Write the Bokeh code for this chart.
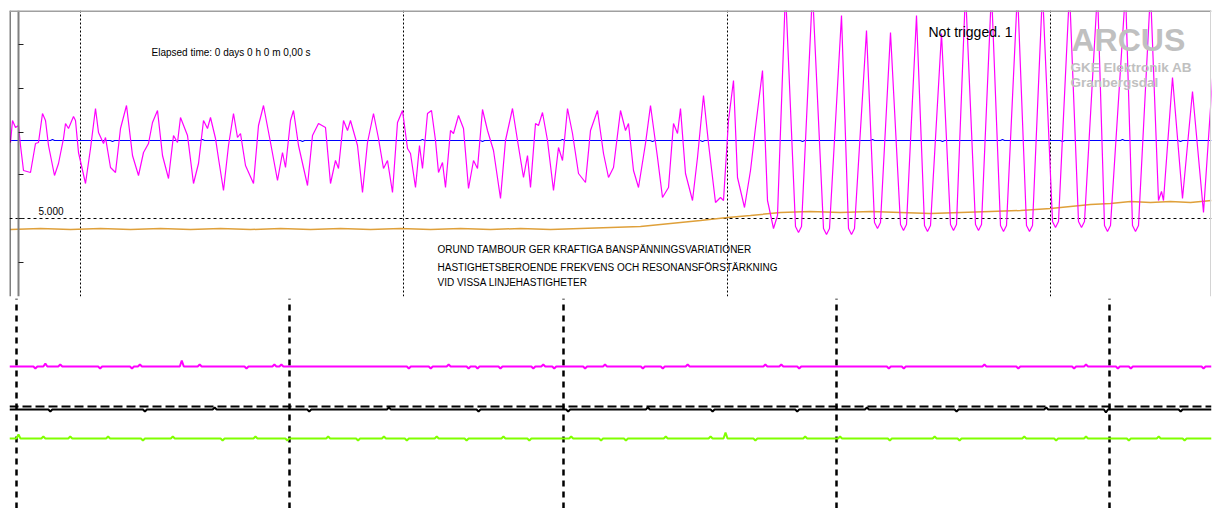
from bokeh.plotting import figure
from bokeh.models import Range1d, FixedTicker, Label, Span, CustomJSTickFormatter
from bokeh.layouts import column
from bokeh.embed import file_html
from bokeh.resources import INLINE

# ---------------- data (x = sample number, y = counts) ----------------
# top panel: magenta signal
mag_x = [0, 2, 5, 8, 10, 13, 20, 25, 28, 32,
         35, 38, 44, 48, 53, 55, 58, 63, 65, 68,
         75, 80, 85, 88, 93, 95, 100, 105, 110, 116,
         122, 128, 133, 138, 142, 147, 152, 158, 163, 167,
         170, 177, 183, 188, 193, 197, 200, 205, 208, 213,
         218, 223, 227, 230, 235, 243, 248, 253, 260, 267,
         272, 275, 280, 283, 288, 297, 302, 308, 315, 320,
         325, 328, 333, 337, 340, 347, 352, 357, 363, 368,
         373, 377, 382, 387, 392, 397, 400, 405, 409, 412,
         417, 421, 425, 428, 432, 435, 440, 443, 448, 453,
         458, 463, 467, 472, 477, 483, 490, 495, 502, 507,
         513, 517, 520, 525, 528, 532, 537, 543, 548, 552,
         557, 562, 568, 575, 580, 587, 593, 598, 603, 610,
         615, 618, 623, 628, 635, 640, 647, 652, 658, 663,
         667, 670, 675, 682, 687, 693, 698, 705, 710, 713,
         718, 723, 727, 734, 740, 745, 752, 757, 763, 767,
         775, 785, 788, 791, 802, 813, 816, 819, 831, 838,
         841, 844, 856, 864, 867, 870, 880, 890, 893, 896,
         906, 914, 917, 920, 931, 940, 943, 946, 955, 965,
         968, 971, 981, 990, 993, 996, 1007, 1016, 1019, 1022,
         1032, 1042, 1045, 1048, 1059, 1068, 1071, 1074, 1087, 1094,
         1097, 1100, 1115, 1122, 1125, 1128, 1140, 1148, 1151, 1153,
         1162, 1172, 1182, 1193, 1202]
mag_y = [-2, 20, 13, 15, -5, -30, -32, -3, -2, 27,
         20, -5, -35, -23, 2, 17, 12, 24, 20, -12,
         -43, -8, 32, 8, -3, 3, -27, -32, 12, 35,
         -15, -35, -12, -3, 18, 30, -15, -38, 5, -2,
         23, 5, -43, -23, 20, 12, 23, 2, -18, -50,
         -5, 27, 3, 7, -25, -43, 15, 35, -2, -40,
         -12, -27, 20, 30, -5, -45, 5, 17, 13, -43,
         -20, -28, 20, 10, 20, -5, -52, -2, 27, 2,
         -28, -20, -52, 18, 30, -8, -13, -47, -5, -28,
         27, 30, 0, -32, -22, -47, 10, 7, 25, 12,
         -48, -20, -28, 31, 10, -10, -58, 0, 32, 0,
         -37, -15, -47, 17, 15, 28, 0, -50, -7, -20,
         32, 7, -33, -42, 10, 30, -13, -37, -27, 30,
         10, 17, -30, -47, -3, 35, -17, -57, -47, 17,
         7, 32, -33, -60, -17, 45, -3, -62, -57, -60,
         20, 60, -37, -67, -30, 13, 70, -60, -88, -75,
         150, -86, -92, -86, 150, -88, -94, -88, 125, -88,
         -94, -88, 110, -82, -88, -82, 108, -84, -90, -84,
         125, -85, -91, -85, 107, -84, -90, -84, 150, -84,
         -90, -84, 150, -85, -91, -85, 150, -85, -91, -85,
         150, -81, -87, -81, 150, -81, -87, -81, 150, -85,
         -91, -85, 150, -85, -91, -85, 150, -60, -51, -60,
         63, -58, 49, -72, 62]

# top panel: orange signal
org_x = [0, 30, 60, 90, 120, 150, 180, 210, 240, 270,
         300, 330, 360, 390, 420, 450, 480, 510, 540, 570,
         600, 630, 660, 690, 717, 740, 770, 800, 830, 860,
         890, 920, 950, 980, 1010, 1040, 1060, 1080, 1100, 1120,
         1140, 1160, 1180, 1201]
org_y = [-89, -88, -89, -88, -89, -88, -89, -88, -89, -88,
         -89, -88, -89, -88, -89, -88, -89, -88, -89, -88,
         -87, -86, -83, -80, -77, -75, -72, -71, -72, -71,
         -72, -73, -72, -71, -70, -68, -66, -64, -63, -61,
         -62, -61, -62, -60]

# top panel: blue signal (flat with small blips)
blue_base = 0
blue_blip_x = [42, 102, 192, 292, 412, 472, 552, 642, 692, 792, 862, 932, 992, 1052, 1112, 1170]
blue_blip_d = [1, -1, 1, -1, 1, -1, 1, -1, -1, -1, 1, -1, 1, -1, 1, -1]

top_ticks = [96, 52, 8, -34, -78, -122]
top_vgrid = [70, 393, 717, 1040]
ref_level = [-78]

# bottom panel traces
bm_base = 42
bm_blip_x = [25, 35, 50, 90, 122, 130, 172, 190, 237, 265,
             272, 400, 422, 440, 460, 469, 492, 525, 535, 546,
             577, 597, 635, 655, 680, 758, 774, 792, 882, 897,
             978, 1012, 1068, 1080, 1112, 1125, 1198]
bm_blip_d = [-2, 3, 2, -2, -2, 2, 6, 2, -2, 2,
             2, -2, -2, 2, -2, -2, -2, -2, 2, -2,
             -2, 2, -2, -2, 2, 2, 2, -2, -2, -2,
             2, -2, -2, 2, -2, -2, -2]

bk_base = -1
bk_blip_x = [40, 135, 205, 300, 380, 470, 560, 640, 705, 790, 860, 950, 1040, 1100, 1175]
bk_blip_d = [-2, -2, 2, -2, 2, -2, -2, 2, -2, -2, 2, -2, 2, -3, -2]
bk_ref = 2

gr_base = -30
gr_blip_x = [8, 33, 60, 98, 133, 163, 213, 246, 278, 319,
             349, 375, 398, 428, 458, 495, 521, 563, 593, 618,
             658, 703, 718, 748, 798, 833, 883, 928, 953, 1018,
             1050, 1080, 1123, 1153, 1179]
gr_blip_d = [4, 2, 2, 2, -2, 2, -2, 2, -2, 2,
             -2, 2, -2, 2, -2, 2, -2, 2, -2, -2,
             2, 2, 6, -2, 2, 2, -2, 2, -2, 2,
             -2, 2, -2, 2, -2]

bot_vgrid = [6, 280.5, 555, 829.5, 1104]


def flat(x0, x1, base, bx, bd, half=2):
    xs, ys = [x0], [base]
    for x, d in zip(bx, bd):
        xs += [x - half, x, x + half]
        ys += [base, base + d, base]
    xs.append(x1)
    ys.append(base)
    return xs, ys


FONT = "Liberation Sans"

# ---------------- top panel ----------------
p1 = figure(width=1216, height=297, x_range=Range1d(-1, 1201), y_range=Range1d(-156, 130),
            output_backend="svg", toolbar_location=None,
            min_border_left=9, min_border_right=5, min_border_top=10, min_border_bottom=1)
p1.outline_line_color = None
p1.xaxis.visible = False
p1.yaxis.fixed_location = 7.5
p1.yaxis.ticker = FixedTicker(ticks=top_ticks)
p1.yaxis.axis_line_color = "#808080"
p1.yaxis.axis_line_width = 2
p1.yaxis.major_tick_in = 5
p1.yaxis.major_tick_out = 0
p1.yaxis.major_tick_line_color = "#202020"
p1.yaxis.minor_tick_line_color = None
p1.yaxis.formatter = CustomJSTickFormatter(code="return ''")
p1.xgrid.ticker = FixedTicker(ticks=top_vgrid)
p1.xgrid.grid_line_color = "black"
p1.xgrid.grid_line_dash = "2 2"
p1.xgrid.grid_line_width = 1
p1.ygrid.ticker = FixedTicker(ticks=ref_level)
p1.ygrid.grid_line_color = "black"
p1.ygrid.grid_line_dash = "3 3"
p1.ygrid.grid_line_width = 1

bx, by = flat(0, 1201, blue_base, blue_blip_x, blue_blip_d)
p1.line(bx, by, line_color="#0000ff", line_width=1.2)
p1.line(org_x, org_y, line_color="#dfa03a", line_width=1.5)
p1.line(mag_x, mag_y, line_color="#ff00ff", line_width=1.2)

p1.add_layout(Span(location=-0.5, dimension="height", line_color="black", line_width=1))
p1.add_layout(Span(location=129.5, dimension="width", line_color="#a0a0a0", line_width=2))
p1.add_layout(Span(location=1200, dimension="height", line_color="#d4d4d4", line_width=1))


def lab(fig, x, y, text, size, color="black", style="normal"):
    fig.add_layout(Label(x=x, y=y, text=text, text_font=FONT, text_font_size=size,
                         text_color=color, text_font_style=style, text_baseline="alphabetic"))


lab(p1, 141, 88.5, "Elapsed time: 0 days 0 h 0 m 0,00 s", "10px")
lab(p1, 918, 109, "Not trigged. 1", "14px")
lab(p1, 1061, 101, "ARCUS", "32px", "#c0c0c0", "bold")
lab(p1, 1060, 73, "GKE Elektronik AB", "13.5px", "#c0c0c0", "bold")
lab(p1, 1060, 58.5, "Granbergsdal", "13.5px", "#c0c0c0", "bold")
lab(p1, 28, -70.5, "5.000", "10px")
lab(p1, 427, -108.5, "ORUND TAMBOUR GER KRAFTIGA BANSPÄNNINGSVARIATIONER", "10px")
lab(p1, 427, -127, "HASTIGHETSBEROENDE FREKVENS OCH RESONANSFÖRSTÄRKNING", "10px")
lab(p1, 427, -141.5, "VID VISSA LINJEHASTIGHETER", "10px")

# ---------------- bottom panel ----------------
p2 = figure(width=1216, height=211, x_range=Range1d(-1, 1206), y_range=Range1d(-100, 110),
            output_backend="svg", toolbar_location=None,
            min_border_left=9, min_border_right=0, min_border_top=1, min_border_bottom=0)
p2.outline_line_color = None
p2.xaxis.visible = False
p2.yaxis.visible = False
p2.ygrid.visible = False
p2.xgrid.ticker = FixedTicker(ticks=bot_vgrid)
p2.xgrid.grid_line_color = "black"
p2.xgrid.grid_line_dash = "6 5"
p2.xgrid.grid_line_width = 2.5

mx, my = flat(-1, 1206, bm_base, bm_blip_x, bm_blip_d)
p2.line(mx, my, line_color="#ff00ff", line_width=2)
kx, ky = flat(-1, 1206, bk_base, bk_blip_x, bk_blip_d)
p2.line(kx, ky, line_color="black", line_width=2)
p2.line([-1, 1206], [bk_ref, bk_ref], line_color="black", line_width=2, line_dash="9 4")
gx, gy = flat(-1, 1206, gr_base, gr_blip_x, gr_blip_d)
p2.line(gx, gy, line_color="#80ff00", line_width=2)

layout = column(p1, p2, spacing=0)
open("out.html", "w").write(file_html(layout, INLINE))
